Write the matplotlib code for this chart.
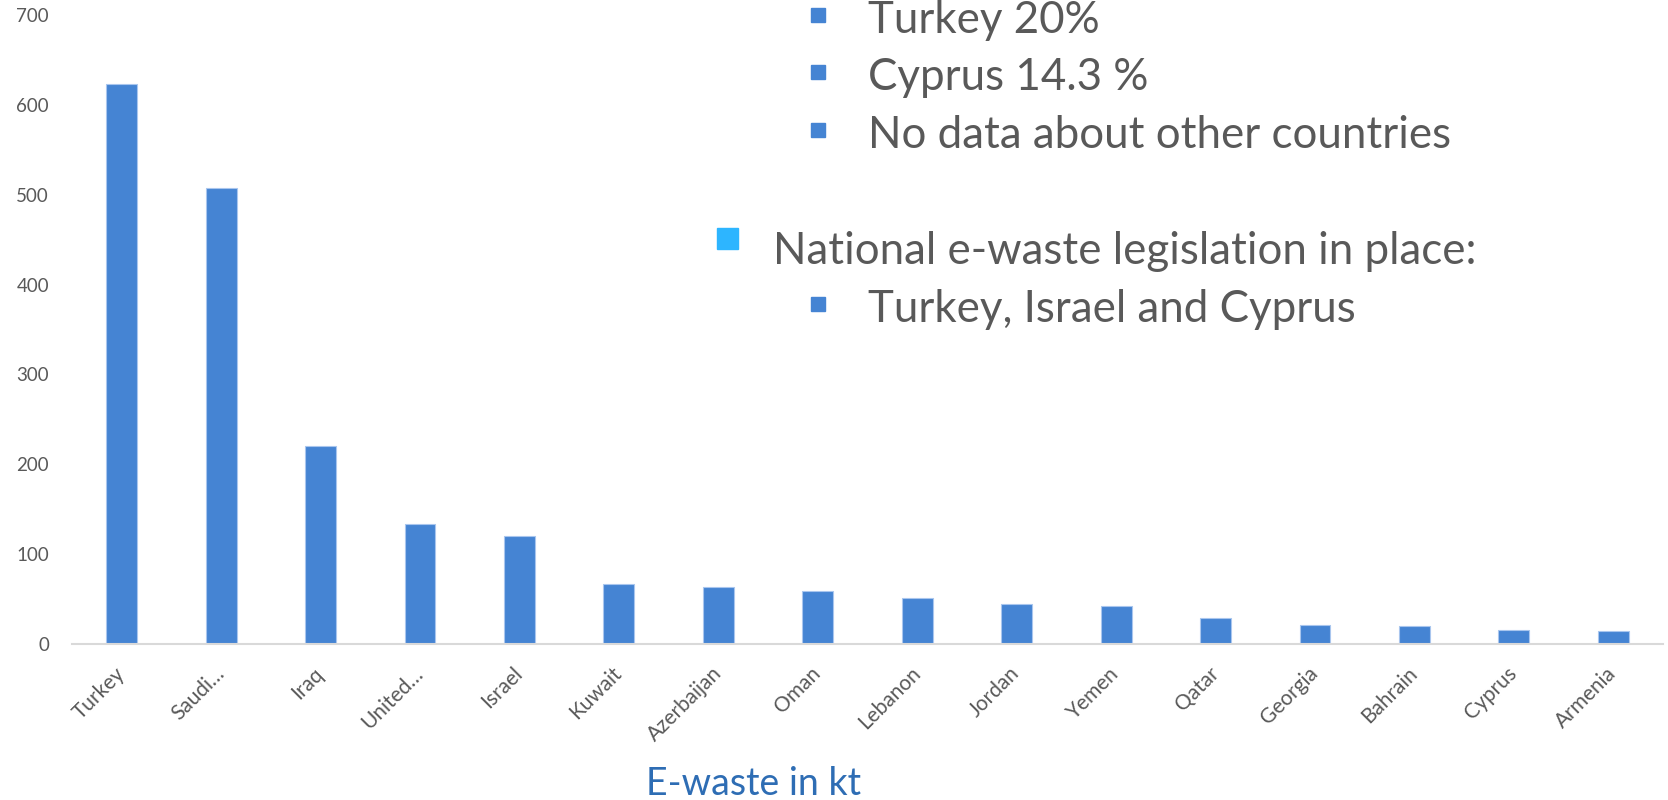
import matplotlib
matplotlib.use("Agg")
import matplotlib.pyplot as plt
from matplotlib.patches import Rectangle

# Datos: e-waste por país (kt)
countries = ["Turkey", "Saudi…", "Iraq", "United…", "Israel", "Kuwait",
             "Azerbaijan", "Oman", "Lebanon", "Jordan", "Yemen", "Qatar",
             "Georgia", "Bahrain", "Cyprus", "Armenia"]
ewaste_kt = [623, 508, 220, 134, 120, 67, 63, 59, 51, 44, 42, 29, 21, 20, 16, 14]
y_ticks = [0, 100, 200, 300, 400, 500, 600, 700]

W, H = 1668, 800
BAR_COLOR = "#4584D3"
GREY = "#595959"
FONT = "Lato"

fig = plt.figure(figsize=(W / 100, H / 100), dpi=100)
ax = fig.add_axes([72 / W, 1 - 644 / H, (1663 - 72) / W, (644 - 15) / H])

x = list(range(len(countries)))
ax.bar(x, ewaste_kt, width=0.31, color=BAR_COLOR, edgecolor="#A9C6EE", linewidth=0.8)

ax.set_xlim(-0.5, len(countries) - 0.5)
ax.set_ylim(0, 700)
ax.set_yticks(y_ticks)
ax.set_yticklabels([str(t) for t in y_ticks], fontsize=13.5, color=GREY, family=FONT)
ax.set_xticks(x)
ax.set_xticklabels(countries, rotation=45, ha="right", va="center", rotation_mode="anchor",
                   fontsize=15, color=GREY, family=FONT)
ax.tick_params(axis="both", length=0)
ax.tick_params(axis="y", pad=16.5)
ax.tick_params(axis="x", pad=19)

for side in ["left", "right", "top"]:
    ax.spines[side].set_visible(False)
ax.spines["bottom"].set_color("#D9D9D9")
ax.spines["bottom"].set_linewidth(1.5)

# Título del eje (abajo, en azul)
fig.text(753 / W, 1 - 795 / H, "E-waste in kt", ha="center", va="baseline",
         fontsize=27, color="#2E6DB4", family=FONT)


def px(xp, yp):
    return xp / W, 1 - yp / H


def bullet(x0, y0, size, color):
    fig.patches.append(Rectangle(px(x0, y0 + size), size / W, size / H,
                                 transform=fig.transFigure, color=color, zorder=5))


# Texto superpuesto
sub_items = [("Turkey 20%", 33), ("Cyprus 14.3 %", 90),
             ("No data about other countries", 148), ("Turkey, Israel and Cyprus", 322)]
for txt, yb in sub_items:
    bullet(811, yb - 25, 14, BAR_COLOR)
    fig.text(*px(868, yb), txt, ha="left", va="baseline", fontsize=31.6,
             color=GREY, family=FONT)

bullet(717, 228, 21, "#2DB5FF")
fig.text(*px(773, 264), "National e-waste legislation in place:", ha="left",
         va="baseline", fontsize=31.6, color=GREY, family=FONT)

fig.savefig("out.png", dpi=100)
